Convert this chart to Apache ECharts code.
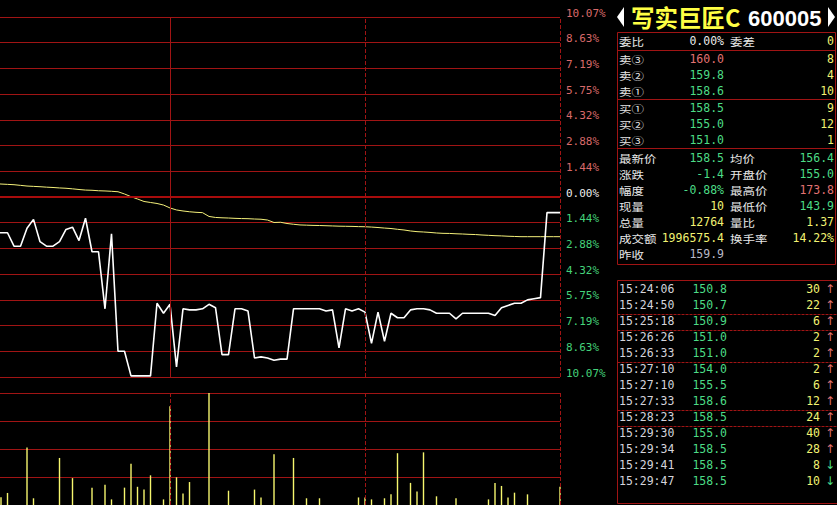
<!DOCTYPE html>
<html><head><meta charset="utf-8">
<script src="https://cdn.jsdelivr.net/npm/echarts@6/dist/echarts.min.js"></script>
<style>html,body{margin:0;padding:0;background:#000;overflow:hidden}#c{width:837px;height:505px}</style>
</head><body><div id="c"></div>
<script>
// ---------------- data ----------------
const stockName = '写实巨匠C';
const stockCode = '600005';
const prevClose = 159.9;

// one value per minute slot (0..90); slots 0-3 lie left of the visible window
const prices = [
  156.7,156.7,156.7,156.7,156.7,
  156.7,
  155.5,155.5,157.1,157.9,
  155.9,155.5,155.5,155.9,157.0,
  157.2,156.0,158.0,155.0,155.0,
  149.9,156.6,146.1,146.1,143.9,
  143.9,143.9,143.9,150.4,149.5,
  150.3,144.7,149.9,149.8,149.8,
  149.9,150.3,150.0,145.8,145.8,
  149.9,149.9,149.7,145.5,145.6,
  145.5,145.3,145.4,145.4,149.9,
  149.9,149.9,149.9,149.9,149.7,
  149.8,146.4,149.9,149.7,149.9,
  149.6,146.8,149.6,147.0,149.5,
  149.1,149.1,149.8,149.9,149.9,
  149.8,149.5,149.5,149.5,149.0,
  149.5,149.5,149.5,149.5,149.5,
  149.3,150.0,150.2,150.4,150.4,
  150.7,150.8,150.9,158.5,158.5,
  158.5
];
const avgPrices = [
  161.11,161.11,161.11,161.11,161.06,
  161.03,161.00,160.94,160.88,160.85,
  160.82,160.78,160.75,160.71,160.68,
  160.63,160.57,160.52,160.50,160.46,
  160.44,160.41,160.37,160.17,159.93,
  159.72,159.50,159.41,159.32,159.18,
  158.92,158.74,158.65,158.58,158.53,
  158.50,158.16,158.07,158.04,158.02,
  157.99,157.97,157.96,157.93,157.91,
  157.84,157.62,157.64,157.53,157.46,
  157.40,157.38,157.36,157.35,157.33,
  157.31,157.29,157.28,157.27,157.25,
  157.24,157.21,157.17,157.12,157.08,
  157.01,156.95,156.86,156.80,156.77,
  156.73,156.68,156.65,156.64,156.61,
  156.59,156.56,156.54,156.50,156.47,
  156.44,156.42,156.39,156.37,156.35,
  156.35,156.35,156.35,156.35,156.35,
  156.35
];
const volumes = [
  0,0,0,0,28,
  43,0,0,205,24,
  0,0,0,168,0,
  96,0,0,62,0,
  72,20,0,62,147,
  65,55,106,0,20,
  353,99,41,82,0,
  0,400,0,0,51,
  0,0,0,55,27,
  0,181,0,0,168,
  0,24,0,24,0,
  0,0,0,0,27,
  27,20,0,24,38,
  185,0,79,48,188,
  0,31,0,0,24,
  0,0,0,0,20,
  79,68,27,44,0,
  38,0,0,0,0,
  65
];
const pctTickLabels = ['10.07%','8.63%','7.19%','5.75%','4.32%','2.88%','1.44%','0.00%','1.44%','2.88%','4.32%','5.75%','7.19%','8.63%','10.07%'];

// quote panel
const bookLabels = ['卖③','卖②','卖①','买①','买②','买③'];
const bookPrices = ['160.0','159.8','158.6','158.5','155.0','151.0'];
const bookVols = ['8','4','10','9','12','1'];
const commitRatio = '0.00%';
const commitDiff = '0';
const statLeftLabels = ['最新价','涨跌','幅度','现量','总量','成交额','昨收'];
const statLeftValues = ['158.5','-1.4','-0.88%','10','12764','1996575.4','159.9'];
const statRightLabels = ['均价','开盘价','最高价','最低价','量比','换手率'];
const statRightValues = ['156.4','155.0','173.8','143.9','1.37','14.22%'];
const tradeTimes = ['15:24:06','15:24:50','15:25:18','15:26:26','15:26:33','15:27:10','15:27:10','15:27:33','15:28:23','15:29:30','15:29:34','15:29:41','15:29:47'];
const tradePrices = ['150.8','150.7','150.9','151.0','151.0','154.0','155.5','158.6','158.5','155.0','158.5','158.5','158.5'];
const tradeVols = ['30','22','6','2','2','2','6','12','24','40','28','8','10'];
const tradeDirs = ['up','up','up','up','up','up','up','up','up','up','up','down','down'];

// ---------------- styles ----------------
const RED_GRID = '#a01414';
const C_UP = '#e27272';
const C_DN = '#4cdc86';
const C_FLAT = '#e8e8e8';
const C_VOL = '#f2f272';
const C_LABEL = '#e6e6e6';
const C_GREY = '#b9b9c8';
const MONO = '"DejaVu Sans Mono", "Liberation Mono", monospace';
const CJK = '"Noto Sans CJK SC", sans-serif';
const priceColor = p => { const v = parseFloat(p); return v > prevClose ? C_UP : (v < prevClose ? C_DN : C_FLAT); };

const yMax = 10.07, yMin = -10.07, yInt = 10.07 / 7;
const toPct = p => (p / prevClose - 1) * 100;

const priceData = prices.map((p, i) => [i, toPct(p)]);
const avgData = avgPrices.map((p, i) => [i, toPct(p)]);
const volData = volumes.map((v, i) => [i, v]);

// visible window: slot 3.846 .. slot 90
const xMinVisible = 3.846, xMaxVisible = 90;

// ---------------- panel graphics ----------------
const g = [];
const txt = (x, y, text, fill, font, align, sy) => g.push({type:'text', x, y, silent:true,
  scaleY: sy || 1,
  style:{text, fill, font, align: align || 'left', verticalAlign:'middle'}});
const lab = (x, y, text) => txt(x, y, text, C_LABEL, fLab, 'left', 0.86);
const hline = (x1, x2, y, dash) => g.push({type:'line', silent:true,
  shape:{x1, y1:y, x2, y2:y}, style:{stroke: RED_GRID, lineWidth:1, lineDash: dash || null}});
const vline = (x, y1, y2) => g.push({type:'line', silent:true,
  shape:{x1:x, y1, x2:x, y2}, style:{stroke: RED_GRID, lineWidth:1}});

const PL = 617.5, PR = 835.5;
const xLab = 619, xVal1 = 724, xLab2 = 730, xVal2 = 834;
const fLab = '12.5px ' + CJK, fNum = '11.5px ' + MONO;

// title
g.push({type:'polygon', silent:true, shape:{points:[[624,7],[617,17],[624,27]]}, style:{fill:'#ffffff'}});
g.push({type:'polygon', silent:true, shape:{points:[[828,7],[835,17],[828,27]]}, style:{fill:'#ffffff'}});
txt(631, 17, stockName, '#ffff44', 'bold 23.5px ' + CJK);
txt(748, 18, stockCode, '#ffffff', 'bold 22px "Liberation Sans", Arial, sans-serif');

// top box
[32.5, 50.5, 99.5, 148.5, 264.5].forEach(y => hline(PL, PR, y));
vline(PL, 32.5, 264.5); vline(PR, 32.5, 264.5);
lab(xLab, 41, '委比');
txt(xVal1, 41, commitRatio, C_FLAT, fNum, 'right');
lab(xLab2, 41, '委差');
txt(xVal2, 41, commitDiff, C_VOL, fNum, 'right');
bookLabels.forEach((l, i) => {
  const y = i < 3 ? 59 + i * 16.2 : 108 + (i - 3) * 16.2;
  lab(xLab, y, l);
  txt(xVal1, y, bookPrices[i], priceColor(bookPrices[i]), fNum, 'right');
  txt(xVal2, y, bookVols[i], C_VOL, fNum, 'right');
});
const leftColors = [priceColor(statLeftValues[0]), C_DN, C_DN, C_VOL, C_VOL, C_VOL, C_GREY];
statLeftLabels.forEach((l, i) => {
  const y = 157.5 + i * 16.1;
  lab(xLab, y, l);
  txt(xVal1, y, statLeftValues[i], leftColors[i], fNum, 'right');
});
const rightColors = [priceColor(statRightValues[0]), priceColor(statRightValues[1]), priceColor(statRightValues[2]), priceColor(statRightValues[3]), C_VOL, C_VOL];
statRightLabels.forEach((l, i) => {
  const y = 157.5 + i * 16.1;
  lab(xLab2, y, l);
  txt(xVal2, y, statRightValues[i], rightColors[i], fNum, 'right');
});

// trades box
hline(PL, 837, 280.5); hline(PL, 837, 503.5);
vline(PL, 280.5, 503.5);
tradeTimes.forEach((t, i) => {
  const y = 289 + i * 16;
  txt(xLab, y, t, '#d4d4dc', fNum);
  txt(727, y, tradePrices[i], priceColor(tradePrices[i]), fNum, 'right');
  txt(820, y, tradeVols[i], C_VOL, fNum, 'right');
  const up = tradeDirs[i] === 'up';
  txt(830, y, up ? '↑' : '↓', up ? C_UP : C_DN, '12px "DejaVu Sans", sans-serif', 'center');
  if (i < tradeTimes.length - 1 && tradeTimes[i].slice(0, 5) !== tradeTimes[i + 1].slice(0, 5)) {
    hline(PL, 837, y + 9.5, [3, 1]);
  }
});

// ---------------- chart ----------------
const chart = echarts.init(document.getElementById('c'), null, {renderer:'svg'});
const vMarks = (firstType) => ({
  silent:true, symbol:['none','none'], label:{show:false},
  lineStyle:{color: RED_GRID, width:1, type:[4,2]},
  emphasis:{disabled:true},
  data:[
    {xAxis:30, lineStyle:{type: firstType}},
    {xAxis:60},
    {xAxis:90}
  ]
});
const mainMarks = vMarks('solid');
mainMarks.data.push({yAxis:0, lineStyle:{type:'solid', width:2, color:'#a80c0c'}});

const xAxisBase = (gi) => ({type:'value', gridIndex:gi, min:xMinVisible, max:xMaxVisible,
  axisLine:{show:false}, axisTick:{show:false}, axisLabel:{show:false}, splitLine:{show:false}});

chart.setOption({
  backgroundColor:'#000000',
  animation:false,
  graphic: g,
  grid:[
    {left:0, width:560, top:17, height:360},
    {left:0, width:560, top:393, height:117}
  ],
  xAxis:[xAxisBase(0), xAxisBase(1)],
  yAxis:[
    {type:'value', gridIndex:0, position:'right', min:yMin, max:yMax, interval:yInt,
     axisLine:{show:false}, axisTick:{show:false},
     splitLine:{show:true, lineStyle:{color:RED_GRID, width:1}},
     axisLabel:{show:true, margin:6, verticalAlign:'bottom', lineHeight:8,
       fontFamily:'"DejaVu Sans Mono", monospace', fontSize:11,
       formatter:(v) => pctTickLabels[Math.round((v - yMin) / yInt)] || '',
       color:(v) => { const n = Number(v); return n > 0.01 ? '#d86a6a' : (n < -0.01 ? '#44d27a' : '#ececec'); }}},
    {type:'value', gridIndex:1, position:'right', min:0, max:400, interval:100,
     axisLine:{show:false}, axisTick:{show:false}, axisLabel:{show:false},
     splitLine:{show:true, lineStyle:{color:RED_GRID, width:1}}}
  ],
  series:[
    {type:'line', name:'均价', xAxisIndex:0, yAxisIndex:0, data:avgData, symbol:'none',
     lineStyle:{color:'#f4f07a', width:1}, z:2, silent:true, markLine: mainMarks},
    {type:'line', name:'价格', xAxisIndex:0, yAxisIndex:0, data:priceData, symbol:'none',
     lineStyle:{color:'#ffffff', width:1.6}, z:3, silent:true},
    {type:'bar', name:'成交量', xAxisIndex:1, yAxisIndex:1, data:volData, barWidth:1.4,
     itemStyle:{color:'#f6f66e'}, z:3, silent:true, markLine: vMarks([4,2])}
  ]
});
</script>
</body></html>
